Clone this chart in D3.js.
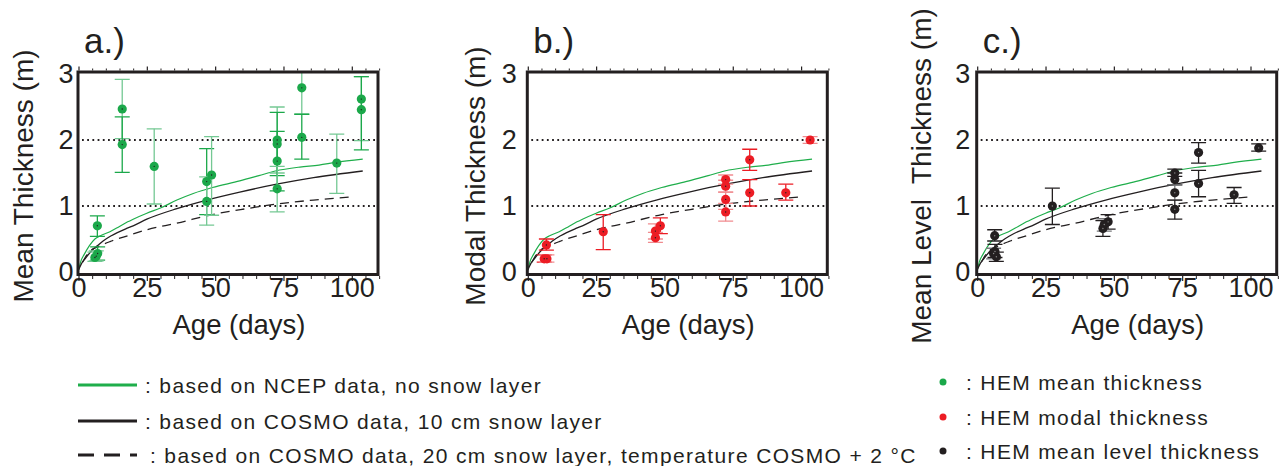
<!DOCTYPE html>
<html>
<head>
<meta charset="utf-8">
<script src="https://cdn.jsdelivr.net/npm/d3@7"></script>
<style>
  body { margin: 0; background: #fff; }
  svg text { font-family: "Liberation Sans", Arial, Helvetica, sans-serif; fill: #231f20; }
</style>
</head>
<body>
<svg id="chart" width="1284" height="466"></svg>
<script>
// model curves (age in days, thickness in m), same in every panel
const ncepAge = [0, 1, 2, 4, 6, 8, 11.5, 15, 18, 20, 25, 30, 36, 42, 49, 59, 66, 72, 81, 88, 94, 104];
const ncepThk = [0.03, 0.18, 0.26, 0.4, 0.5, 0.55, 0.61, 0.69, 0.76, 0.8, 0.89, 0.97, 1.09, 1.19, 1.28, 1.38, 1.46, 1.53, 1.59, 1.62, 1.66, 1.71];
const cosmo10Age = [0, 1, 2.4, 5, 7, 9, 12, 17.6, 20, 25, 36, 47, 59, 72.5, 86, 104];
const cosmo10Thk = [0.03, 0.12, 0.2, 0.33, 0.4, 0.47, 0.55, 0.66, 0.7, 0.8, 0.96, 1.09, 1.21, 1.33, 1.43, 1.53];
const cosmo20Age = [1.5, 4, 7, 11.5, 18, 25, 36, 49, 61.5, 72.5, 86, 101];
const cosmo20Thk = [0.15, 0.31, 0.38, 0.46, 0.55, 0.64, 0.74, 0.87, 0.96, 1.03, 1.09, 1.14];

// HEM points: [age, value, low, high, bar shade]
const meanPts = [
  [6.9, 0.70, 0.54, 0.85, "d"], [6, 0.22, 0.16, 0.30, "l"], [7, 0.28, 0.18, 0.38, "d"], [6.5, 0.24, 0.17, 0.32, "l"],
  [16, 2.47, 2.02, 2.92, "l"], [16, 1.93, 1.51, 2.35, "d"], [27.7, 1.60, 1.03, 2.17, "l"],
  [46.9, 1.37, 0.87, 1.87, "d"], [46.9, 1.07, 0.71, 1.44, "l"], [48.7, 1.47, 0.86, 2.05, "l"],
  [72.7, 2.00, 1.50, 2.50, "l"], [72.7, 1.94, 1.46, 2.42, "d"], [72.7, 1.68, 1.23, 2.13, "d"], [72.7, 1.26, 0.91, 1.60, "l"],
  [81.7, 2.79, 2.39, 3.19, "l"], [81.7, 2.04, 1.71, 2.39, "d"], [94.5, 1.65, 1.19, 2.09, "l"],
  [103.5, 2.62, 1.99, 2.96, "l"], [103.5, 2.46, 1.85, 2.96, "d"]
];
const modalPts = [
  [6.8, 0.41, 0.33, 0.50, "d"], [6, 0.20, 0.15, 0.26, "d"], [7, 0.20, 0.15, 0.26, "l"],
  [27.6, 0.61, 0.34, 0.87, "d"],
  [48.5, 0.70, 0.58, 0.82, "d"], [46.7, 0.62, 0.50, 0.73, "l"], [46.7, 0.52, 0.45, 0.60, "l"],
  [72.4, 1.40, 1.33, 1.47, "l"], [72.4, 1.30, 1.21, 1.39, "l"], [72.4, 1.10, 0.95, 1.21, "l"], [72.4, 0.91, 0.77, 1.04, "l"],
  [81.2, 1.70, 1.54, 1.86, "d"], [81.2, 1.20, 1.00, 1.40, "d"], [94.4, 1.20, 1.09, 1.33, "d"],
  [103.3, 2.00, 1.95, 2.05, "l"]
];
const levelPts = [
  [6.4, 0.55, 0.47, 0.64, "d"], [6, 0.28, 0.20, 0.36, "l"], [7, 0.23, 0.16, 0.30, "d"], [6.5, 0.31, 0.22, 0.42, "d"],
  [27.5, 1.00, 0.72, 1.27, "d"],
  [46, 0.66, 0.54, 0.78, "d"], [47.9, 0.76, 0.65, 0.87, "d"], [46.5, 0.72, 0.62, 0.81, "l"],
  [72.3, 1.50, 1.45, 1.56, "d"], [72.3, 1.40, 1.32, 1.50, "d"], [72.3, 1.20, 1.09, 1.32, "l"], [72.3, 0.95, 0.80, 1.09, "d"],
  [81, 1.81, 1.65, 1.96, "d"], [81, 1.34, 1.14, 1.54, "d"], [94, 1.17, 1.04, 1.28, "d"],
  [103, 1.88, 1.83, 1.94, "d"]
];

const xTicks = [0, 25, 50, 75, 100];
const yTicks = [0, 1, 2, 3];
const lineLegend = [
  ": based on NCEP data, no snow layer",
  ": based on COSMO data, 10 cm snow layer",
  ": based on COSMO data, 20 cm snow layer, temperature COSMO + 2 \u00B0C"
];
const dotLegend = [": HEM mean thickness", ": HEM modal thickness", ": HEM mean level thickness"];

const INK = "#231f20";
const GREEN = "#1fae4b";

const panels = [
  { id: "a", left: 78, label: "a.)", title: "Mean Thickness (m)", titleX: 33, gap: 3, pts: meanPts,
    dot: "#1ba84a", dark: "#1ba84a", light: "#74c893" },
  { id: "b", left: 527.3, label: "b.)", title: "Modal Thickness (m)", titleX: 485, gap: 9, pts: modalPts,
    dot: "#ec1c24", dark: "#ec1c24", light: "#f08b8f" },
  { id: "c", left: 976.7, label: "c.)", title: "Mean Level  Thickness (m)", titleX: 931, gap: 5, pts: levelPts,
    dot: INK, dark: INK, light: "#77787b" }
];

const svg = d3.select("#chart");
svg.append("rect").attr("width", 1284).attr("height", 466).attr("fill", "#fff");

const W = 300, TOP = 72, BOTTOM = 274.5;
const y = d3.scaleLinear().domain([0, 3]).range([272, 74]);

function zip(a, b) { return a.map((v, i) => [v, b[i]]); }

panels.forEach(p => {
  const x = d3.scaleLinear().domain([0, 100]).range([p.left + 0.5, p.left + 0.5 + 273.3]);
  const g = svg.append("g");
  const line = d3.line().x(d => x(d[0])).y(d => y(d[1])).curve(d3.curveMonotoneX);

  g.append("clipPath").attr("id", "clip-" + p.id)
    .append("rect").attr("x", p.left).attr("y", TOP).attr("width", W).attr("height", BOTTOM - TOP);

  // dotted reference lines
  g.selectAll(".ref").data([1, 2]).join("line")
    .attr("x1", p.left + 4).attr("x2", p.left + W)
    .attr("y1", d => y(d)).attr("y2", d => y(d))
    .attr("stroke", INK).attr("stroke-width", 1.8).attr("stroke-dasharray", "1.8,3.4");

  const plot = g.append("g").attr("clip-path", `url(#clip-${p.id})`);

  plot.append("path").datum(zip(ncepAge, ncepThk)).attr("d", line)
    .attr("fill", "none").attr("stroke", GREEN).attr("stroke-width", 1.2);
  plot.append("path").datum(zip(cosmo10Age, cosmo10Thk)).attr("d", line)
    .attr("fill", "none").attr("stroke", INK).attr("stroke-width", 1.3);
  plot.append("path").datum(zip(cosmo20Age, cosmo20Thk)).attr("d", line)
    .attr("fill", "none").attr("stroke", INK).attr("stroke-width", 1.3).attr("stroke-dasharray", "9,6");

  // error bars
  const bars = plot.append("g").selectAll("g").data(p.pts).join("g")
    .attr("stroke", d => d[4] === "d" ? p.dark : p.light).attr("stroke-width", 1.3);
  bars.append("line").attr("x1", d => x(d[0])).attr("x2", d => x(d[0]))
    .attr("y1", d => y(d[2])).attr("y2", d => y(d[3]));
  bars.append("line").attr("x1", d => x(d[0]) - 7.5).attr("x2", d => x(d[0]) + 7.5)
    .attr("y1", d => y(d[2])).attr("y2", d => y(d[2]));
  bars.append("line").attr("x1", d => x(d[0]) - 7.5).attr("x2", d => x(d[0]) + 7.5)
    .attr("y1", d => y(d[3])).attr("y2", d => y(d[3]));

  // points with small centre mark
  plot.append("g").selectAll("circle").data(p.pts).join("circle")
    .attr("cx", d => x(d[0])).attr("cy", d => y(d[1])).attr("r", 4.6).attr("fill", p.dot);
  plot.append("g").selectAll("circle").data(p.pts).join("circle")
    .attr("cx", d => x(d[0])).attr("cy", d => y(d[1])).attr("r", 0.7).attr("fill", p.id === "c" ? "#888" : INK);

  // box
  g.append("rect").attr("x", p.left).attr("y", TOP).attr("width", W).attr("height", BOTTOM - TOP)
    .attr("fill", "none").attr("stroke", INK).attr("stroke-width", 3);

  // x axis bottom: major with labels, minor every 5
  const minor = d3.range(0, 111, 5).filter(v => v % 25 !== 0);
  const bx = g.append("g").attr("transform", `translate(0,${BOTTOM + 1.5})`)
    .call(d3.axisBottom(x).tickValues(xTicks).tickSize(5).tickFormat(d3.format("d")));
  bx.select(".domain").remove();
  bx.selectAll("line").attr("stroke", INK).attr("stroke-width", 1.2);
  bx.selectAll("text").attr("y", 2).attr("dy", "0.71em").style("font-size", "27px").attr("fill", INK);

  const bm = g.append("g").attr("transform", `translate(0,${BOTTOM + 1.5})`)
    .call(d3.axisBottom(x).tickValues(minor).tickSize(3).tickFormat(""));
  bm.select(".domain").remove();
  bm.selectAll("line").attr("stroke", INK).attr("stroke-width", 1);

  const tx = g.append("g").attr("transform", `translate(0,${TOP - 1.5})`)
    .call(d3.axisTop(x).tickValues(xTicks).tickSize(4).tickFormat(""));
  tx.select(".domain").remove();
  tx.selectAll("line").attr("stroke", INK).attr("stroke-width", 1.2);
  const tm = g.append("g").attr("transform", `translate(0,${TOP - 1.5})`)
    .call(d3.axisTop(x).tickValues(minor).tickSize(2).tickFormat(""));
  tm.select(".domain").remove();
  tm.selectAll("line").attr("stroke", INK).attr("stroke-width", 1);

  // y axis labels
  const ly = g.append("g").attr("transform", `translate(${p.left - 1.5},0)`)
    .call(d3.axisLeft(y).tickValues(yTicks).tickSize(0).tickPadding(p.gap).tickFormat(d3.format("d")));
  ly.select(".domain").remove();
  ly.selectAll("text").style("font-size", "27px").attr("fill", INK);

  // titles
  g.append("text").attr("x", p.left + 150 + 11).attr("y", 334).attr("text-anchor", "middle")
    .style("font-size", "27.5px").text("Age (days)");
  g.append("text").attr("transform", `translate(${p.titleX},176) rotate(-90)`).attr("text-anchor", "middle")
    .style("font-size", "28px").style("white-space", "pre").text(p.title);
  g.append("text").attr("x", p.left + 6).attr("y", 53).style("font-size", "35px").text(p.label);
});

// legend: model lines
const lg = svg.append("g");
const lineStyles = [
  { stroke: GREEN, dash: null, tx: 145 },
  { stroke: INK, dash: null, tx: 145 },
  { stroke: INK, dash: "16,10", tx: 150 }
];
const rowY = [385, 421, 455];
lineLegend.forEach((t, i) => {
  lg.append("line").attr("x1", 78).attr("x2", 137).attr("y1", rowY[i]).attr("y2", rowY[i])
    .attr("stroke", lineStyles[i].stroke).attr("stroke-width", 3)
    .attr("stroke-dasharray", lineStyles[i].dash);
  lg.append("text").attr("x", lineStyles[i].tx).attr("y", rowY[i] + 7.5)
    .style("font-size", "21px").style("letter-spacing", "1.35px").text(t);
});

// legend: HEM points
const dotColors = [panels[0].dot, panels[1].dot, panels[2].dot];
const dotY = [382, 417, 451];
dotLegend.forEach((t, i) => {
  lg.append("circle").attr("cx", 943).attr("cy", dotY[i]).attr("r", 3.5).attr("fill", dotColors[i]);
  lg.append("text").attr("x", 966).attr("y", dotY[i] + 7.5)
    .style("font-size", "21px").style("letter-spacing", "1.35px").text(t);
});
</script>
</body>
</html>
